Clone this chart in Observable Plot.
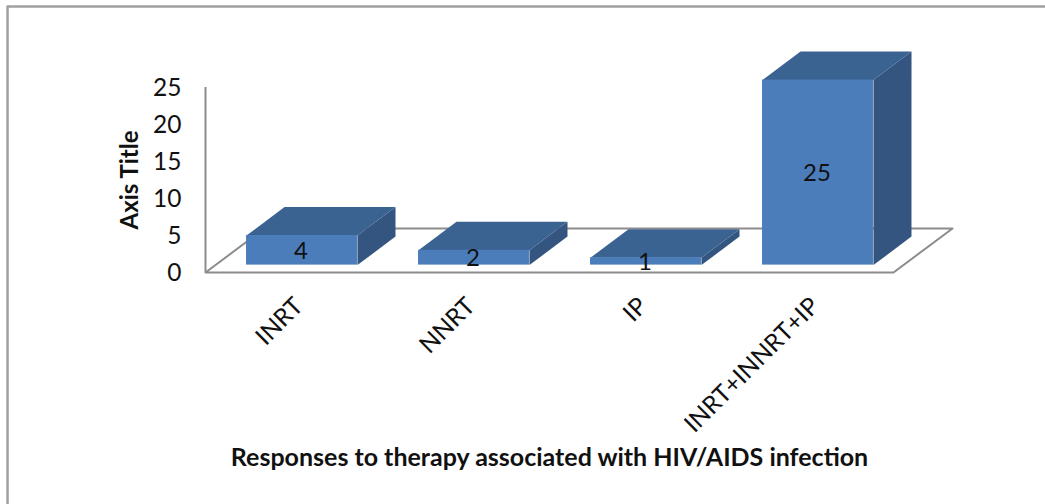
<!DOCTYPE html>
<html>
<head>
<meta charset="utf-8">
<script src="https://cdn.jsdelivr.net/npm/d3@7"></script>
<script src="https://cdn.jsdelivr.net/npm/@observablehq/plot@0.6"></script>
<style>
  html, body { margin: 0; padding: 0; background: #fff; }
  svg { display: block; }
</style>
</head>
<body>
<div id="chart"></div>
<script>
const categories = ["INRT", "NNRT", "IP", "INRT+INNRT+IP"];
const values = [4, 2, 1, 25];
const yTicks = [0, 5, 10, 15, 20, 25];
const xTitle = "Responses to therapy associated with HIV/AIDS infection";
const yTitle = "Axis Title";

const font = "Lato, Carlito, Calibri, sans-serif";
const colors = { front: "#4c7dbb", top: "#3b6392", side: "#33557f", grid: "#8c8c8c", border: "#a0a0a0", text: "#111" };

// Oblique projection, expressed in data units: a category is 1 wide in x, y is in value units.
const floorDepth = { x: 0.343, y: 5.95 };
const barDepth = { x: 0.221, y: 3.85 };
const barGap = { x: 0.2385, y: 1.0 };
const barWidth = 0.645;

const bars = categories.map((name, i) => ({
  name, value: values[i],
  x1: i + barGap.x, x2: i + barGap.x + barWidth,
  y1: barGap.y, y2: barGap.y + values[i]
}));

const face = (kind) => bars.flatMap((b) => {
  const dx = barDepth.x, dy = barDepth.y;
  const pts = kind === "top"
    ? [[b.x1, b.y2], [b.x2, b.y2], [b.x2 + dx, b.y2 + dy], [b.x1 + dx, b.y2 + dy]]
    : [[b.x2, b.y1], [b.x2 + dx, b.y1 + dy], [b.x2 + dx, b.y2 + dy], [b.x2, b.y2]];
  return pts.map(([x, y]) => ({ x, y, id: b.name }));
});

const n = categories.length;
const floor = [
  { x: 0, y: 0 }, { x: n, y: 0 },
  { x: n + floorDepth.x, y: floorDepth.y }, { x: floorDepth.x, y: floorDepth.y }
];

const plot = Plot.plot({
  width: 1045, height: 504,
  marginLeft: 205, marginRight: 152, marginTop: 87, marginBottom: 232,
  style: { background: "#fff", fontFamily: font },
  x: { type: "linear", domain: [0, n], axis: null },
  y: { type: "linear", domain: [0, 25], axis: null },
  marks: [
    // picture border: left and top edges only
    Plot.line([{ x: -1.151, y: -32 }, { x: -1.151, y: 35.95 }, { x: 4.9, y: 35.95 }],
      { x: "x", y: "y", stroke: colors.border, strokeWidth: 2.5 }),
    // floor and wall
    Plot.line(floor, { x: "x", y: "y", curve: "linear-closed", stroke: colors.grid, strokeWidth: 2, fill: "#fff" }),
    Plot.ruleX([0], { y1: 0, y2: 25, stroke: colors.grid, strokeWidth: 2 }),
    // bars
    Plot.line(face("side"), { x: "x", y: "y", z: "id", curve: "linear-closed", fill: colors.side, stroke: null }),
    Plot.line(face("top"), { x: "x", y: "y", z: "id", curve: "linear-closed", fill: colors.top, stroke: null }),
    Plot.rect(bars, { x1: "x1", x2: "x2", y1: "y1", y2: "y2", fill: colors.front }),
    // value labels
    Plot.text(bars, {
      x: (d) => (d.x1 + d.x2) / 2, y: (d) => (d.y1 + d.y2) / 2, text: (d) => String(d.value),
      dx: -1, dy: 1, fontSize: 24, fill: colors.text
    }),
    // y ticks
    Plot.text(yTicks, { x: -0.14, y: (d) => d, text: (d) => String(d), textAnchor: "end", dy: 1, fontSize: 24.5, fill: colors.text }),
    // category labels
    Plot.text(bars, {
      x: (d) => (d.x1 + d.x2) / 2, y: -4, text: "name", rotate: -45, textAnchor: "end",
      dx: -3, fontSize: 24.5, fill: colors.text
    }),
    // axis titles
    Plot.text([xTitle], { x: n / 2, y: -25, text: (d) => d, fontSize: 25, fontWeight: 700, fill: colors.text }),
    Plot.text([yTitle], { x: -0.435, y: 12.5, text: (d) => d, rotate: -90, fontSize: 24, fontWeight: 700, fill: colors.text })
  ]
});
document.getElementById("chart").appendChild(plot);
</script>
</body>
</html>
